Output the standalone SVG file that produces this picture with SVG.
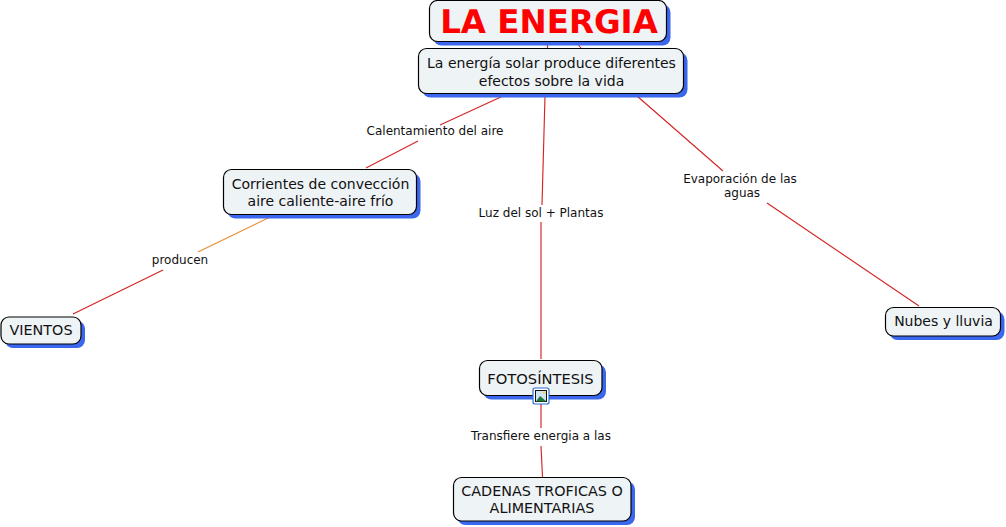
<svg xmlns="http://www.w3.org/2000/svg" width="1006" height="527" viewBox="0 0 1006 527">
<style>
text{font-family:"DejaVu Sans",Verdana,sans-serif;fill:#111;text-anchor:middle}
.n{font-size:14px}
.u{font-size:14.700px}
.v{font-size:14.350px}
.l{font-size:12px}
.box{fill:#eef3f6;stroke:#000;stroke-width:1.200}
.sh{fill:#3b66ee}
.c{fill:none;stroke:#d42525;stroke-width:1.150}
</style>
<rect width="1006" height="527" fill="#fff"/>
<g id="connectors">
<path class="c" d="M547.500 41V48M575 41L581 48"/>
<path class="c" d="M503 96L440 125M418 141L366 168"/>
<path class="c" d="M545 96L542 205M541 222V359"/>
<path class="c" d="M637 96L723 171M767 203L919 306"/>
<path class="c" d="M270 217L198 252" style="stroke:#e8913a"/>
<path class="c" d="M163 270L73 314"/>
<path class="c" d="M541 404V428M541 446L542.500 477"/>
</g>
<g id="n-energia">
<rect class="sh" x="433.500" y="4.500" width="237" height="41" rx="8"/>
<rect class="box" x="429.500" y="0.500" width="237" height="41" rx="8"/>
<text x="549" y="32.500" style="font-size:32.500px;font-weight:bold;fill:#f00;text-rendering:geometricPrecision">LA ENERGIA</text>
</g>
<g id="n-solar">
<rect class="sh" x="422.500" y="52.500" width="265" height="45" rx="8"/>
<rect class="box" x="418.500" y="48.500" width="265" height="45" rx="8"/>
<text class="n" x="551.500" y="68">La energía solar produce diferentes</text>
<text class="n" x="551.500" y="86">efectos sobre la vida</text>
</g>
<g id="n-corrientes">
<rect class="sh" x="227.500" y="173.500" width="193" height="45" rx="8"/>
<rect class="box" x="223.500" y="169.500" width="193" height="45" rx="8"/>
<text class="n" x="320.500" y="189">Corrientes de convección</text>
<text class="n" x="320.500" y="206">aire caliente-aire frío</text>
</g>
<g id="n-vientos">
<rect class="sh" x="5" y="321" width="80" height="27" rx="8"/>
<rect class="box" x="1" y="317" width="80" height="27" rx="8"/>
<text class="v" x="41" y="335">VIENTOS</text>
</g>
<g id="n-nubes">
<rect class="sh" x="889.500" y="311.500" width="115" height="28.500" rx="8"/>
<rect class="box" x="885.500" y="307.500" width="115" height="28.500" rx="8"/>
<text class="n" x="943.500" y="326">Nubes y lluvia</text>
</g>
<g id="n-fotosintesis">
<rect class="sh" x="483.500" y="364.500" width="122.500" height="35" rx="8"/>
<rect class="box" x="479.500" y="360.500" width="122.500" height="35" rx="8"/>
<text class="u" x="540.500" y="384">FOTOSÍNTESIS</text>
<rect x="533" y="388" width="16" height="16" rx="2" fill="#fff" stroke="#2b6fd6" stroke-width="1.200"/>
<rect x="535.500" y="390.500" width="11" height="11" fill="#cfe3f5" stroke="#111" stroke-width="1"/>
<circle cx="544" cy="392.500" r="1.500" fill="#e8d96a"/>
<path d="M536 401.500L540 396L546.500 401.500Z" fill="#1f7a3a"/>
</g>
<g id="n-cadenas">
<rect class="sh" x="457.500" y="481.500" width="177.500" height="43.500" rx="8"/>
<rect class="box" x="453.500" y="477.500" width="177.500" height="43.500" rx="8"/>
<text class="v" x="542" y="496">CADENAS TROFICAS O</text>
<text class="v" x="542" y="513">ALIMENTARIAS</text>
</g>
<g id="labels">
<text class="l" x="435" y="135">Calentamiento del aire</text>
<text class="l" x="541" y="217">Luz del sol + Plantas</text>
<text class="l" x="740" y="183">Evaporación de las</text>
<text class="l" x="742" y="197">aguas</text>
<text class="l" x="180" y="264">producen</text>
<text class="l" x="541" y="440">Transfiere energia a las</text>
</g>
</svg>
